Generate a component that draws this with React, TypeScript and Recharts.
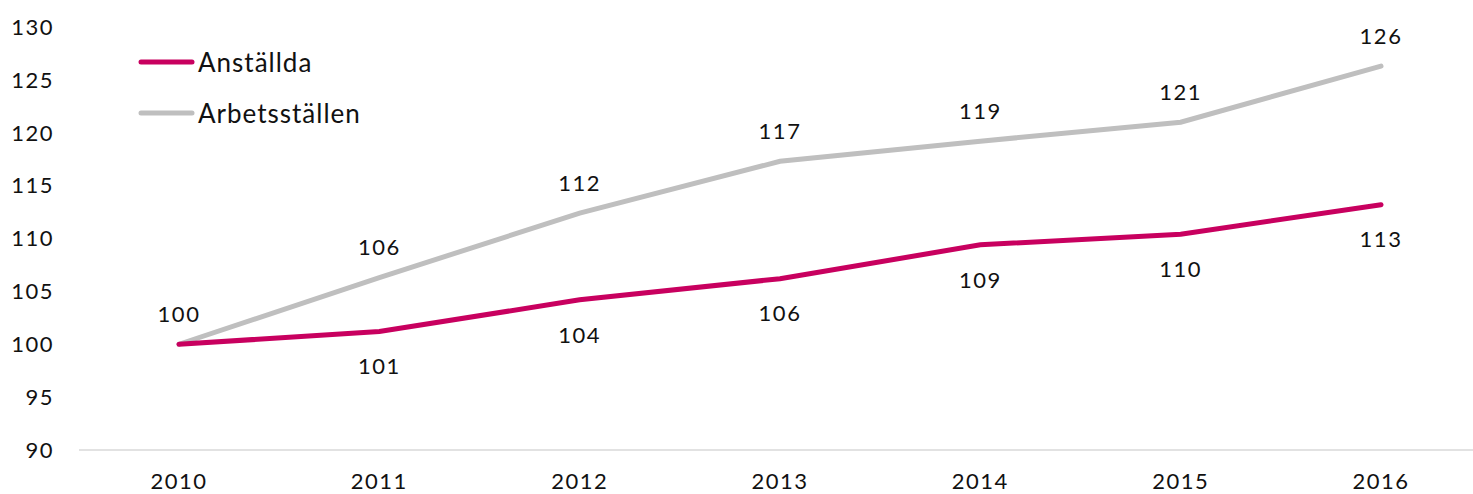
import React from "react";
import { LineChart, Line, XAxis, YAxis } from "recharts";

const years = ["2010", "2011", "2012", "2013", "2014", "2015", "2016"];
const anstallda = [100, 101.2, 104.2, 106.2, 109.4, 110.4, 113.2];
const arbetsstallen = [100, 106.3, 112.4, 117.3, 119.2, 121.0, 126.3];
const yTicks = [90, 95, 100, 105, 110, 115, 120, 125, 130];

const MAGENTA = "#C8005F";
const GREY = "#BFBFBF";
const FONT = "Lato, 'Noto Sans', sans-serif";
const numStyle = { fontSize: 22, fill: "#111", fontFamily: FONT, letterSpacing: 1.5 };

const data = years.map((year, i) => ({
  year,
  anstallda: anstallda[i],
  arbetsstallen: arbetsstallen[i],
}));

const AboveLabel = (props: any) => {
  const { x, y, value } = props;
  return (
    <text x={x} y={y - 30} dy="0.35em" textAnchor="middle" style={numStyle}>
      {Math.round(value)}
    </text>
  );
};

const BelowLabel = (props: any) => {
  const { x, y, value, index } = props;
  if (index === 0) return null;
  return (
    <text x={x} y={y + 35} dy="0.35em" textAnchor="middle" style={numStyle}>
      {Math.round(value)}
    </text>
  );
};

const legendItems = [
  { name: "Anställda", color: MAGENTA },
  { name: "Arbetsställen", color: GREY },
];

// drawn on top of the chart so it doesn't eat into the plot area
const ChartLegend = () => (
  <svg width={400} height={140} style={{ position: "absolute", left: 0, top: 0 }}>
    {legendItems.map((item, i) => (
      <g key={item.name}>
        <line x1={141} x2={192} y1={62 + i * 51} y2={62 + i * 51} stroke={item.color} strokeWidth={5} strokeLinecap="round" />
        <text x={198} y={72 + i * 51} fontSize={26} fill="#111" fontFamily={FONT} letterSpacing={1}>
          {item.name}
        </text>
      </g>
    ))}
  </svg>
);

export default function App() {
  return (
    <div style={{ position: "absolute", left: 0, top: 0, width: 1473, height: 494, overflow: "hidden", background: "#fff" }}>
      <LineChart width={1481} height={494} data={data} margin={{ top: 27, right: 0, bottom: 0, left: 0 }}>
        <XAxis
          dataKey="year"
          height={44}
          padding={{ left: 100, right: 100 }}
          tickSize={0}
          tickMargin={23}
          axisLine={{ stroke: "#D9D9D9", strokeWidth: 1.5 }}
          tick={numStyle}
        />
        <YAxis
          width={79}
          domain={[90, 130]}
          ticks={yTicks}
          tickSize={0}
          tickMargin={25}
          axisLine={false}
          tickLine={false}
          tick={numStyle}
        />
        <Line
          type="linear"
          dataKey="arbetsstallen"
          name="Arbetsställen"
          stroke={GREY}
          strokeWidth={5}
          strokeLinecap="round"
          dot={false}
          activeDot={false}
          isAnimationActive={false}
          label={<AboveLabel />}
        />
        <Line
          type="linear"
          dataKey="anstallda"
          name="Anställda"
          stroke={MAGENTA}
          strokeWidth={5}
          strokeLinecap="round"
          dot={false}
          activeDot={false}
          isAnimationActive={false}
          label={<BelowLabel />}
        />
      </LineChart>
      <ChartLegend />
    </div>
  );
}
